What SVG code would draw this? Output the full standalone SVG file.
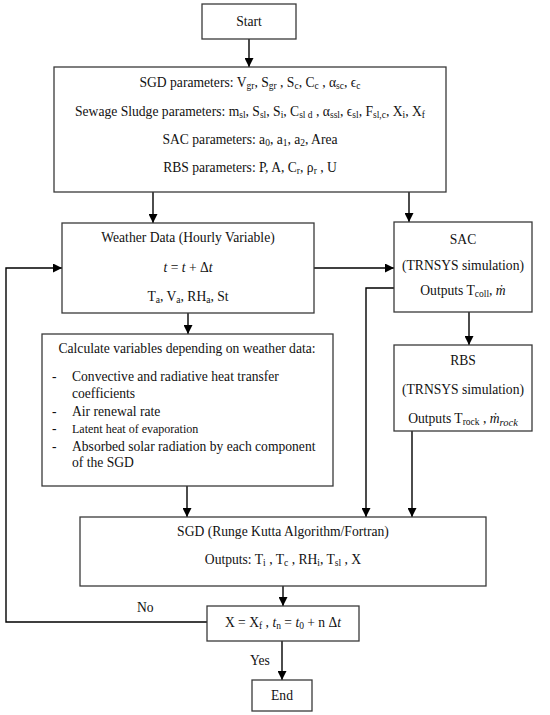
<svg xmlns="http://www.w3.org/2000/svg" width="550" height="715" viewBox="0 0 550 715" font-family="'Liberation Serif','Times New Roman',serif">
<defs>
<marker id="ah" viewBox="0 0 10 10" refX="10" refY="5" markerWidth="9" markerHeight="9" markerUnits="userSpaceOnUse" orient="auto">
<path d="M0,0 L10,5 L0,10 z" fill="#000"/>
</marker>
<style>
.box{fill:#fff;stroke:#3a3a3a;stroke-width:1.3}
text{font-family:"Liberation Serif","Times New Roman",serif;font-size:13.6px;fill:#111}
.c{text-anchor:middle}
.s{font-size:9.5px;baseline-shift:-2px}
.i{font-style:italic}
.sm{font-size:12px}
.cn{fill:none;stroke:#000;stroke-width:1.4;marker-end:url(#ah)}
</style>
</defs>
<rect width="550" height="715" fill="#fff"/>

<g id="connectors">
<path class="cn" d="M249,39 V67"/>
<path class="cn" d="M153,192 V223"/>
<path class="cn" d="M409,192 V222"/>
<path class="cn" d="M314,268 H394"/>
<path class="cn" d="M394,288 H366 V517"/>
<path class="cn" d="M469,312 V345"/>
<path class="cn" d="M188,313 V334"/>
<path class="cn" d="M412,431 V517"/>
<path class="cn" d="M187,486 V517"/>
<path class="cn" d="M283,586 V606"/>
<path class="cn" d="M207,622 H6 V268 H62"/>
<path class="cn" d="M282,641 V680"/>
<text x="137" y="612">No</text>
<text x="250" y="665">Yes</text>
</g>

<g id="start">
<rect class="box" x="202" y="4" width="94" height="35"/>
<text class="c" x="249" y="26">Start</text>
</g>

<g id="params">
<rect class="box" x="54" y="67" width="392" height="125"/>
<text class="c" x="250" y="87">SGD parameters: V<tspan class="s">gr</tspan>, S<tspan class="s">gr</tspan> , S<tspan class="s">c</tspan>, C<tspan class="s">c</tspan> , α<tspan class="s">sc</tspan>, ϵ<tspan class="s">c</tspan></text>
<text class="c" x="250" y="116">Sewage Sludge parameters: m<tspan class="s">sl</tspan>, S<tspan class="s">sl</tspan>, S<tspan class="s">i</tspan>, C<tspan class="s">sl d</tspan> , α<tspan class="s">ssl</tspan>, ϵ<tspan class="s">sl</tspan>, F<tspan class="s">sl,c</tspan>, X<tspan class="s">i</tspan>, X<tspan class="s">f</tspan></text>
<text class="c" x="250" y="144">SAC parameters: a<tspan class="s">0</tspan>, a<tspan class="s">1</tspan>, a<tspan class="s">2</tspan>, Area</text>
<text class="c" x="250" y="172">RBS parameters: P, A, C<tspan class="s">r</tspan>, ρ<tspan class="s">r</tspan> , U</text>
</g>

<g id="weather">
<rect class="box" x="62" y="223" width="252" height="90"/>
<text class="c" x="188" y="242">Weather Data (Hourly Variable)</text>
<text class="c" x="188" y="272"><tspan class="i">t</tspan> = <tspan class="i">t</tspan> + Δ<tspan class="i">t</tspan></text>
<text class="c" x="188" y="301">T<tspan class="s">a</tspan>, V<tspan class="s">a</tspan>, RH<tspan class="s">a</tspan>, St</text>
</g>

<g id="sac">
<rect class="box" x="394" y="222" width="138" height="90"/>
<text class="c" x="463" y="244">SAC</text>
<text class="c" x="463" y="270">(TRNSYS simulation)</text>
<text class="c" x="463" y="295">Outputs T<tspan class="s">coll</tspan>, <tspan class="i">ṁ</tspan></text>
</g>

<g id="rbs">
<rect class="box" x="394" y="345" width="138" height="86"/>
<text class="c" x="463" y="365">RBS</text>
<text class="c" x="463" y="394">(TRNSYS simulation)</text>
<text class="c" x="463" y="423">Outputs T<tspan class="s">rock</tspan> , <tspan class="i">ṁ</tspan><tspan class="i" style="font-size:10.5px;baseline-shift:-2.5px">rock</tspan></text>
</g>

<g id="calc">
<rect class="box" x="42" y="334" width="291" height="152"/>
<text class="c" x="187" y="353">Calculate variables depending on weather data:</text>
<text x="52" y="381">-</text><text x="72" y="381">Convective and radiative heat transfer</text>
<text x="72" y="398">coefficients</text>
<text x="52" y="416">-</text><text x="72" y="416">Air renewal rate</text>
<text x="52" y="433">-</text><text class="sm" x="72" y="433">Latent heat of evaporation</text>
<text x="52" y="451">-</text><text x="72" y="451">Absorbed solar radiation by each component</text>
<text x="72" y="467">of the SGD</text>
</g>

<g id="sgd">
<rect class="box" x="80" y="517" width="406" height="69"/>
<text class="c" x="283" y="536">SGD (Runge Kutta Algorithm/Fortran)</text>
<text class="c" x="283" y="564">Outputs: T<tspan class="s">i</tspan> , T<tspan class="s">c</tspan> , RH<tspan class="s">i</tspan>, T<tspan class="s">sl</tspan> , X</text>
</g>

<g id="decision">
<rect class="box" x="207" y="606" width="152" height="35"/>
<text class="c" x="283" y="627">X = X<tspan class="s">f</tspan> , <tspan class="i">t</tspan><tspan class="s">n</tspan> = <tspan class="i">t</tspan><tspan class="s">0</tspan> + n Δ<tspan class="i">t</tspan></text>
</g>

<g id="end">
<rect class="box" x="252" y="680" width="60" height="31"/>
<text class="c" x="282" y="700">End</text>
</g>
</svg>
